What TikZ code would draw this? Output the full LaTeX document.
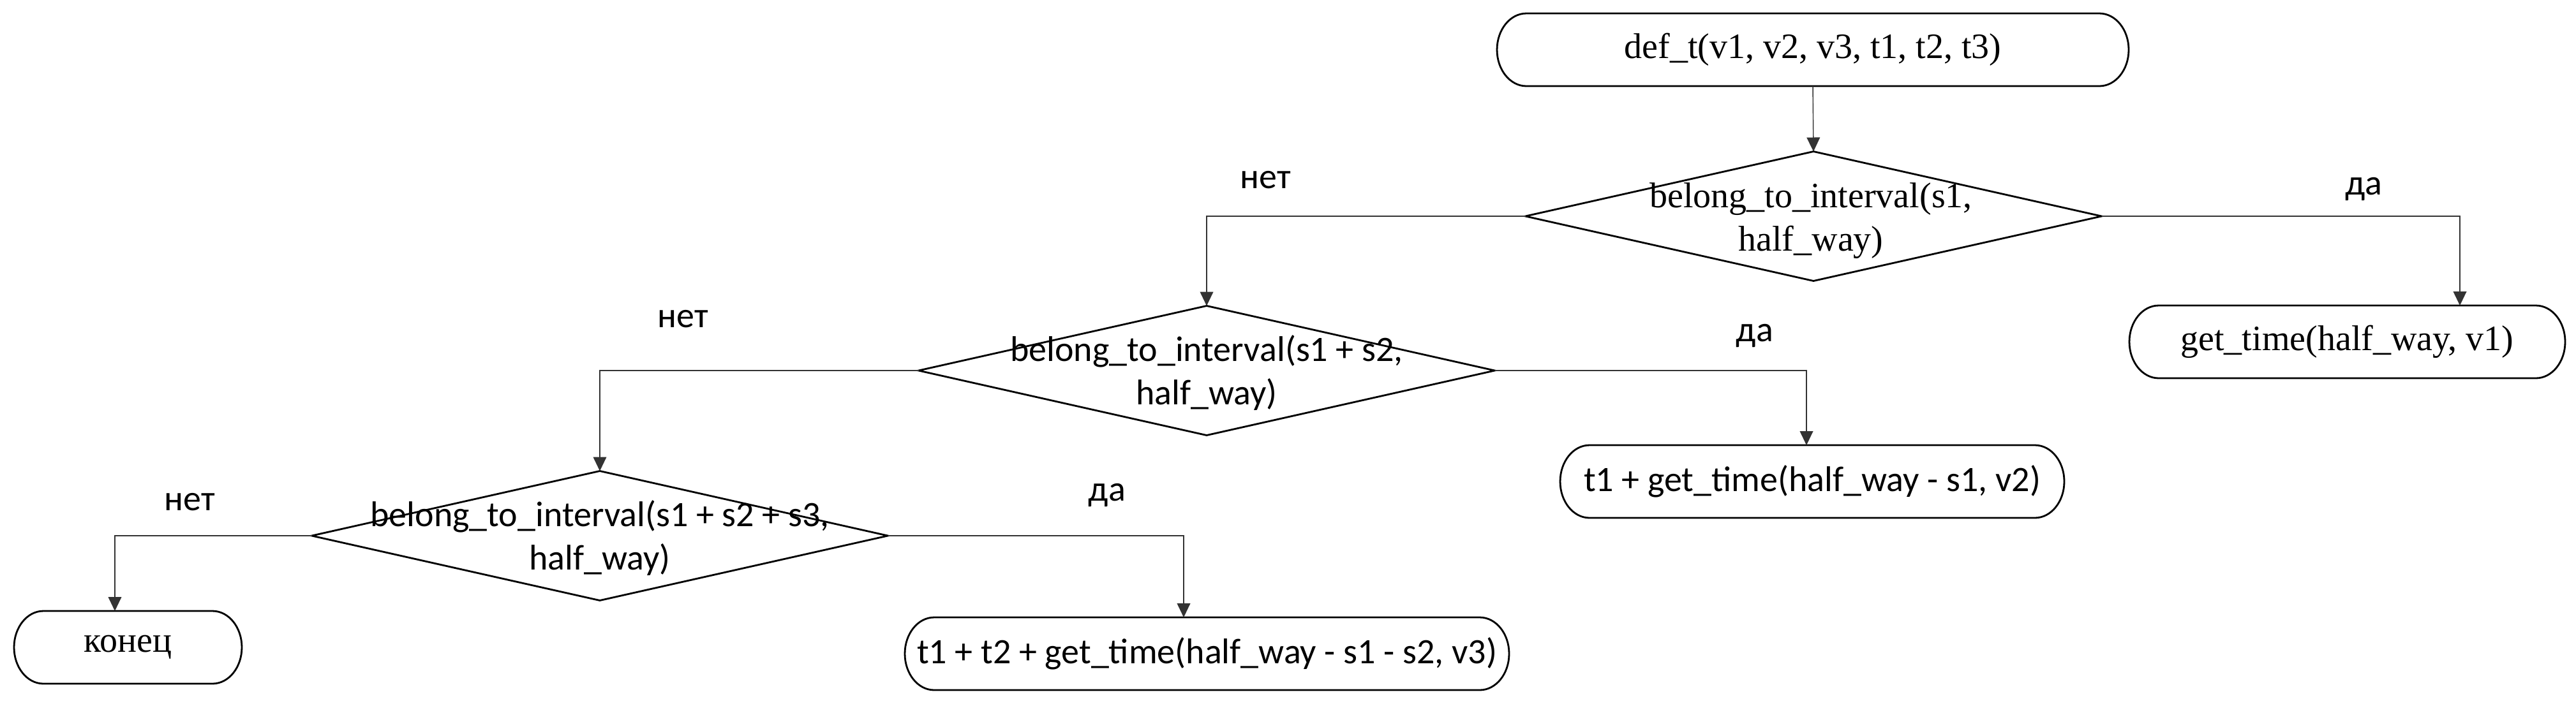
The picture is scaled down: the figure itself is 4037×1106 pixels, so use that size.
\documentclass[tikz,border=0pt]{standalone}
\usepackage{fontspec}
\setmainfont{Liberation Serif}
\newfontfamily\sansf{Carlito}
\usetikzlibrary{shapes.geometric,arrows.meta}
\newcommand\serifsz{\fontsize{14pt}{17pt}\selectfont}
\newcommand\sanssz{\sansf\fontsize{14pt}{17pt}\selectfont}
\newcommand\termbox[1]{%
  \draw[termline] ([xshift=11.5pt]#1.north west) -- ([xshift=-11.5pt]#1.north east)
    arc[start angle=90,end angle=-90,x radius=11.5pt,y radius=14.25pt]
    -- ([xshift=11.5pt]#1.south west)
    arc[start angle=270,end angle=90,x radius=11.5pt,y radius=14.25pt] -- cycle;}
\tikzset{
  term/.style={rectangle, draw=none, inner sep=0pt, outer sep=0pt,
    minimum height=28.5pt, font=\serifsz},
  termsans/.style={term, font=\sanssz},
  termline/.style={draw=black, line width=0.7pt},
  dia/.style={diamond, draw=black, line width=0.7pt, inner sep=0pt, outer sep=0pt,
    minimum width=225.75pt, minimum height=50.75pt},
  diatext/.style={align=center, inner sep=0pt, font=\serifsz},
  diatextsans/.style={align=center, inner sep=0pt, font=\sanssz},
  conn/.style={draw=black!80, line width=0.35pt, -{Triangle[length=5.5pt,width=5.2pt]}},
  lbl/.style={inner sep=0pt, font=\sanssz}
}
\begin{document}
\begin{tikzpicture}[x=0.25pt,y=-0.25pt]
\fill[white] (0,0) rectangle (4037,1106);
\useasboundingbox (0,0) rectangle (4037,1106);

% terminators
\node[term, minimum width=247.5pt] (def) at (2841,78) {def\_t(v1, v2, v3, t1, t2, t3)};
\termbox{def}
\node[term, minimum width=170.75pt] (get) at (3678.5,536) {get\_time(half\_way, v1)};
\termbox{get}
\node[termsans, minimum width=197.5pt] (tone) at (2840,755) {t1 + get\_time(half\_way - s1, v2)};
\termbox{tone}
\node[term, minimum width=89.25pt] (fin) at (200.5,1015) {конец};
\termbox{fin}
\node[termsans, minimum width=236.75pt] (ttwo) at (1891.5,1025) {t1 + t2 + get\_time(half\_way - s1 - s2, v3)};
\termbox{ttwo}

% decisions
\node[dia] (d1) at (2842,339) {};
\node[diatext] (d1t) at (2838,346) {belong\_to\_interval(s1,\\half\_way)};
\node[dia] (d2) at (1891,581) {};
\node[diatextsans] (d2t) at (1891,585) {belong\_to\_interval(s1 + s2,\\half\_way)};
\node[dia] (d3) at (940,840) {};
\node[diatextsans] (d3t) at (940,844) {belong\_to\_interval(s1 + s2 + s3,\\half\_way)};

% bend points
\coordinate (k1) at (3855,339);
\coordinate (k2) at (2831,581);
\coordinate (k3) at (180,840);
\coordinate (k4) at (1855,840);

% connectors
\draw[conn] (def.south) -- (d1.north);
\draw[conn] (d1.west) -| (d2.north);
\draw[conn] (d1.east) -- (k1) -- (k1 |- get.north);
\draw[conn] (d2.west) -| (d3.north);
\draw[conn] (d2.east) -- (k2) -- (k2 |- tone.north);
\draw[conn] (d3.west) -- (k3) -- (k3 |- fin.north);
\draw[conn] (d3.east) -- (k4) -- (k4 |- ttwo.north);

% labels
\node[lbl] (n1) at (1983,282) {нет};
\node[lbl] (y1) at (3704,296) {да};
\node[lbl] (n2) at (1070,500) {нет};
\node[lbl] (y2) at (2750,526) {да};
\node[lbl] (n3) at (297,787) {нет};
\node[lbl] (y3) at (1735,776) {да};
\end{tikzpicture}
\end{document}
